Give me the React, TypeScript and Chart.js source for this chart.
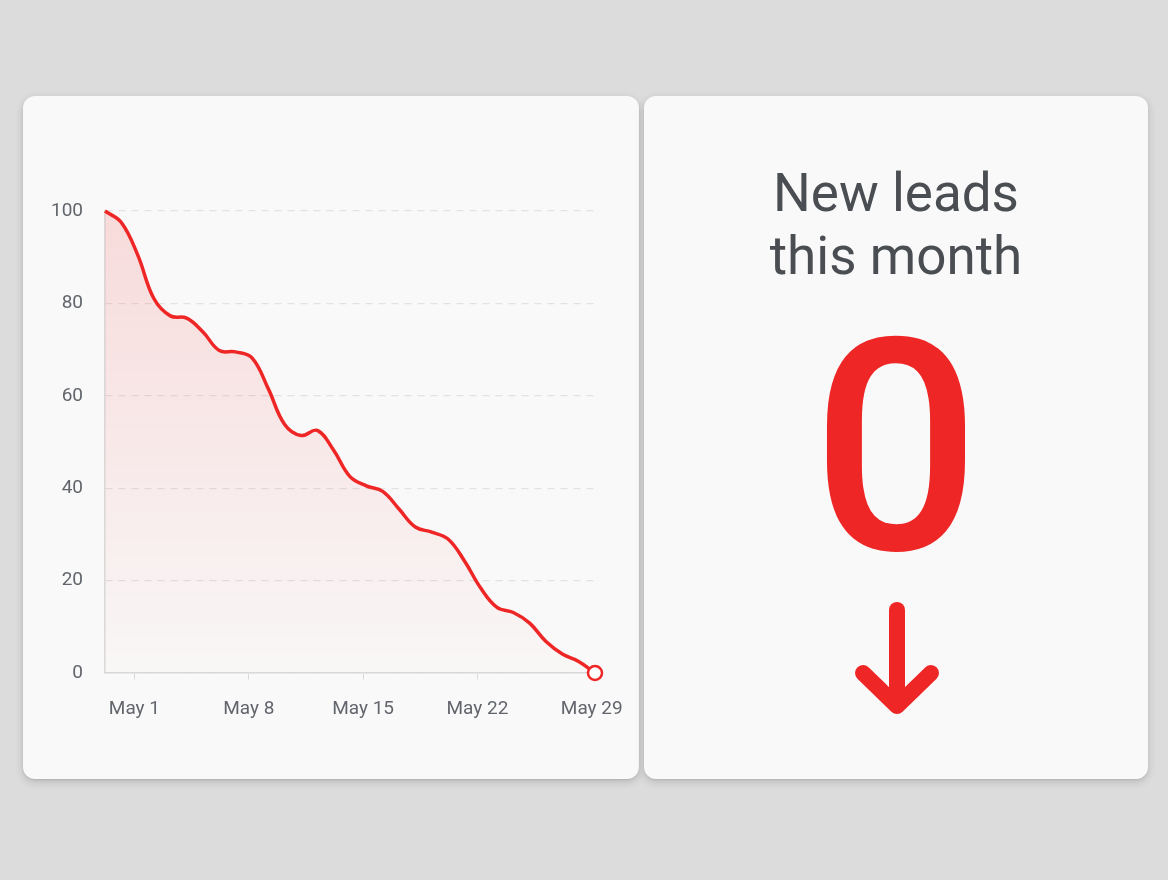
import React, { useEffect, useRef } from "react";
import { Chart, registerables } from "chart.js";

Chart.register(...registerables);

// One point per day (day-of-May position) and lead counts
const dayPositions = [
  -0.8, 0.2, 1.2, 2.2, 3.2, 4.2, 5.2, 6.2, 7.2, 8.2, 9.2, 10.2, 11.2, 12.2, 13.2,
  14.2, 15.2, 16.2, 17.2, 18.2, 19.2, 20.2, 21.2, 22.2, 23.2, 24.2, 25.2, 26.2,
  27.2, 28.2, 29.2,
];
const leadValues = [
  100, 97.5, 90.5, 81, 77.3, 76.8, 73.8, 69.8, 69.5, 68.2, 61.5, 53.8, 51.4,
  52.5, 48.2, 42.5, 40.5, 39.3, 35.5, 31.6, 30.5, 29, 24.3, 18.4, 14.2, 13.1,
  10.8, 6.8, 4.1, 2.5, 0,
];
const tickDays = [1, 8, 15, 22, 29];
const tickLabels = ["May 1", "May 8", "May 15", "May 22", "May 29"];
const yMin = 0;
const yMax = 100;
const yStep = 20;
const headlineLines = ["New leads", "this month"];
const currentLeads = 0;

const RED = "#ef2626";

function LeadsChart() {
  const ref = useRef<HTMLCanvasElement | null>(null);
  useEffect(() => {
    if (!ref.current) return;
    const points = dayPositions.map((d, i) => ({ x: d, y: leadValues[i] }));
    const last = points.length - 1;
    const chart = new Chart(ref.current, {
      type: "line",
      data: {
        datasets: [
          {
            data: points,
            borderColor: RED,
            borderWidth: 3.5,
            tension: 0.4,
            fill: "origin",
            clip: false as any,
            backgroundColor: (c: any) => {
              const { ctx, chartArea } = c.chart;
              if (!chartArea) return "rgba(239,38,38,0.1)";
              const g = ctx.createLinearGradient(0, chartArea.top, 0, chartArea.bottom);
              g.addColorStop(0, "rgba(245,40,40,0.14)");
              g.addColorStop(1, "rgba(245,40,40,0.01)");
              return g;
            },
            pointRadius: (c: any) => (c.dataIndex === last ? 7 : 0),
            pointHoverRadius: 0,
            pointBackgroundColor: "#ffffff",
            pointBorderColor: RED,
            pointBorderWidth: 2.5,
          },
        ],
      },
      options: {
        responsive: false,
        animation: false,
        devicePixelRatio: 1,
        layout: { padding: { left: 0, top: 115, right: 44, bottom: 46 } },
        plugins: { legend: { display: false }, tooltip: { enabled: false } },
        scales: {
          x: {
            type: "linear",
            min: -0.8,
            max: 29.2,
            afterBuildTicks: (s: any) => {
              s.ticks = tickDays.map((v) => ({ value: v }));
            },
            afterFit: (s: any) => {
              s.height = 60;
            },
            grid: {
              drawOnChartArea: false,
              drawTicks: true,
              tickLength: 13,
              tickBorderDash: [6, 30],
              color: "#d9d9d9",
            },
            border: { display: true, color: "#d9d9d9", width: 1.5 },
            ticks: {
              autoSkip: false,
              maxRotation: 0,
              padding: 12,
              color: "#62666c",
              font: { family: "Roboto", size: 19 },
              callback: (v: any) => {
                const i = tickDays.indexOf(Number(v));
                return i >= 0 ? tickLabels[i] : "";
              },
            },
          },
          y: {
            min: yMin,
            max: yMax,
            afterFit: (s: any) => {
              s.width = 82;
            },
            grid: { color: "#e2e2e2", lineWidth: 1.2, drawTicks: false },
            border: { display: true, color: "#d9d9d9", width: 1.5, dash: [7, 6] },
            ticks: {
              stepSize: yStep,
              padding: 22,
              color: "#62666c",
              font: { family: "Roboto", size: 19 },
            },
          },
        },
      },
    });
    return () => chart.destroy();
  }, []);
  return <canvas ref={ref} width={616} height={683} style={{ display: "block" }} />;
}

export default function App() {
  const card: React.CSSProperties = {
    position: "absolute",
    top: 96,
    height: 683,
    background: "#f9f9f9",
    borderRadius: 12,
    boxShadow: "0 3px 8px rgba(0,0,0,0.16), 0 1px 2px rgba(0,0,0,0.08)",
    overflow: "hidden",
  };
  return (
    <div style={{ position: "fixed", inset: 0, background: "#dcdcdc" }}>
      <div style={{ ...card, left: 23, width: 616 }}>
        <LeadsChart />
      </div>
      <div style={{ ...card, left: 644, width: 504 }}>
        <div
          style={{
            position: "absolute",
            top: 66,
            left: 0,
            width: 504,
            textAlign: "center",
            fontFamily: "Roboto",
            fontSize: 53,
            lineHeight: "63px",
            color: "#4a4d52",
          }}
        >
          {headlineLines.map((l) => (
            <div key={l}>{l}</div>
          ))}
        </div>
        <div
          style={{
            position: "absolute",
            top: 204,
            left: 0,
            width: 504,
            textAlign: "center",
            fontFamily: "Roboto",
            fontWeight: 500,
            fontSize: 296,
            lineHeight: "296px",
            color: RED,
          }}
        >
          {currentLeads}
        </div>
        <svg
          width={504}
          height={683}
          style={{ position: "absolute", left: 0, top: 0 }}
        >
          <g
            transform="translate(-644,-96)"
            fill="none"
            stroke={RED}
            strokeWidth={16}
            strokeLinecap="round"
            strokeLinejoin="round"
          >
            <line x1={897} y1={610} x2={897} y2={705} />
            <polyline points="863,673 897,706 931,673" />
          </g>
        </svg>
      </div>
    </div>
  );
}
